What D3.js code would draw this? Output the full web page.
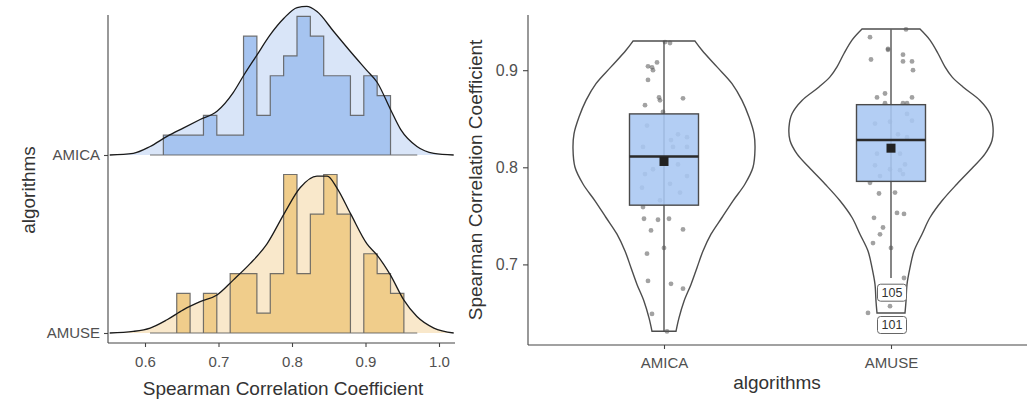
<!DOCTYPE html>
<html><head><meta charset="utf-8">
<script src="https://cdn.jsdelivr.net/npm/d3@7"></script>
<style>body{margin:0;background:#fff}svg{display:block;font-family:"Liberation Sans",Arial,sans-serif}</style>
</head><body><svg id="c" width="1034" height="403"></svg>
<script>
// ---------- data ----------
const algorithms = ["AMICA", "AMUSE"];
const binStart = 0.6068, binWidth = 0.01818;
const histAMICA = [0,1,1,1,2,1,1,6,2,4,5,7,6,4,4,2,4,3,0,0];
const histAMUSE = [0,0,2,0,2,0,3,3,1,3,8,3,6,8,6,0,4,3,2,0];
// density curves (x value, height in count units)
const densAMICA = [[0.552,0],[0.584,0.085],[0.607,0.43],[0.630,0.94],[0.652,1.36],[0.675,1.79],[0.698,2.21],[0.720,3.15],[0.734,4.0],[0.752,5.03],[0.770,6.05],[0.789,6.9],[0.807,7.44],[0.820,7.5],[0.834,7.24],[0.857,6.22],[0.880,5.2],[0.902,4.26],[0.916,3.66],[0.934,2.3],[0.948,1.28],[0.970,0.43],[0.993,0.085],[1.020,0]];
const densAMUSE = [[0.552,0],[0.584,0.08],[0.607,0.25],[0.630,0.67],[0.652,1.17],[0.675,1.58],[0.698,1.92],[0.720,2.67],[0.743,3.5],[0.766,4.5],[0.789,6.0],[0.811,7.33],[0.834,7.92],[0.848,7.92],[0.861,7.33],[0.880,6.0],[0.902,4.5],[0.916,3.92],[0.934,2.92],[0.952,1.67],[0.970,0.83],[0.993,0.25],[1.020,0]];
const xTicksLeft = [0.6, 0.7, 0.8, 0.9, 1.0];
const yTicksRight = [0.7, 0.8, 0.9];
// violin outlines (value, half width)
const violinAMICA = [[0.930,31],[0.9206,38],[0.9034,53],[0.8862,68],[0.8689,78],[0.8517,85],[0.8345,90],[0.819,91],[0.800,89],[0.7828,81],[0.7655,69],[0.7483,58],[0.7311,47],[0.7138,39],[0.6966,33],[0.6794,27],[0.6621,20],[0.6449,15],[0.6311,12]];
const violinAMUSE = [[0.9424,29],[0.931,39],[0.9172,47],[0.9034,54],[0.8931,61],[0.8827,72],[0.8689,89],[0.8552,99],[0.8414,102],[0.8276,101],[0.8138,94],[0.800,82],[0.7828,66],[0.7655,51],[0.7483,39],[0.7311,31],[0.7138,23],[0.6966,19],[0.6794,16],[0.6621,15],[0.650,14]];
// box stats: [low whisker, q1, median, q3, high whisker, mean]
const boxAMICA = [0.631, 0.761, 0.811, 0.855, 0.930, 0.806];
const boxAMUSE = [0.686, 0.7855, 0.828, 0.8645, 0.942, 0.8197];
// jittered points (jitter offset, value)
const pointsAMICA = [[1,0.929],[6,0.928],[-16,0.904],[-12,0.903],[-7,0.908],[-11,0.900],[-16,0.890],[-5,0.872],[-4,0.869],[19,0.871],[-19,0.864],[-1,0.857],[-17,0.843],[14,0.834],[23,0.831],[7,0.828],[-21,0.821],[9,0.821],[23,0.821],[14,0.803],[-11,0.798],[-19,0.793],[23,0.791],[-22,0.779],[6,0.783],[16,0.774],[-4,0.766],[-21,0.759],[-20,0.747],[-6,0.746],[5,0.747],[-13,0.735],[19,0.736],[0,0.717],[-17,0.711],[-16,0.683],[7,0.680],[19,0.675],[-12,0.649],[3,0.631]];
const pointsAMUSE = [[-21,0.934],[15,0.942],[-3,0.922],[-3,0.921],[-20,0.911],[12,0.916],[12,0.909],[21,0.909],[22,0.900],[-6,0.876],[-14,0.872],[21,0.872],[12,0.866],[16,0.866],[-6,0.866],[-16,0.845],[-1,0.847],[16,0.855],[21,0.848],[7,0.834],[16,0.831],[-14,0.814],[9,0.814],[14,0.803],[-16,0.802],[-1,0.798],[9,0.797],[-11,0.791],[12,0.793],[-21,0.784],[-12,0.773],[4,0.774],[6,0.753],[13,0.752],[-17,0.748],[-8,0.738],[-11,0.731],[-18,0.722],[0,0.717],[13,0.686],[-1,0.657],[-23,0.650]];
const outlierLabels = [["105", 0.686, 292.7], ["101", 0.650, 325]];

// ---------- drawing ----------
const svg = d3.select("#c");
const font = "'Liberation Sans', Arial, sans-serif";
const tickCol = "#505050", axisCol = "#444", titleCol = "#333";

// LEFT PANEL
const xL = d3.scaleLinear().domain([0.6, 1.0]).range([145, 439]);
const yCat = d3.scalePoint().domain(algorithms).range([155, 333]);
const hS = d3.scaleLinear().domain([0, 8]).range([0, 158.5]);
const ridges = [
  {name:"AMICA", hist:histAMICA, dens:densAMICA, dark:"#a6c4f0", light:"#d9e5f8"},
  {name:"AMUSE", hist:histAMUSE, dens:densAMUSE, dark:"#f0cd8b", light:"#f9e8cb"}
];
const gL = svg.append("g");
ridges.forEach(r => {
  const base = yCat(r.name);
  const area = d3.area().x(d => xL(d[0])).y0(base).y1(d => base - hS(d[1])).curve(d3.curveMonotoneX);
  gL.append("path").attr("d", area(r.dens)).attr("fill", r.light);
  const pts = [[xL(binStart), base]];
  r.hist.forEach((c, i) => {
    const x0 = xL(binStart + i*binWidth), x1 = xL(binStart + (i+1)*binWidth);
    pts.push([x0, base - hS(c)]); pts.push([x1, base - hS(c)]);
  });
  pts.push([xL(binStart + r.hist.length*binWidth), base]);
  gL.append("path").attr("d", "M" + pts.map(p => p.join(",")).join("L") + "Z")
    .attr("fill", r.dark).attr("stroke", "#5a5a5a").attr("stroke-opacity", 0.85).attr("stroke-width", 1.2);
  const line = d3.line().x(d => xL(d[0])).y(d => base - hS(d[1])).curve(d3.curveMonotoneX);
  gL.append("path").attr("d", line(r.dens)).attr("fill", "none").attr("stroke", "#1a1a1a").attr("stroke-width", 1.3);
});
const axL = svg.append("g").attr("transform", "translate(108,0)").call(d3.axisLeft(yCat).tickSize(4).tickPadding(4));
axL.select(".domain").remove();
axL.append("line").attr("x1", 0).attr("x2", 0).attr("y1", 15).attr("y2", 343);
const axB = svg.append("g").attr("transform", "translate(0,343)").call(d3.axisBottom(xL).tickValues(xTicksLeft).tickFormat(d3.format(".1f")).tickSize(4).tickPadding(9));
axB.select(".domain").remove();
axB.append("line").attr("x1", 108).attr("x2", 455).attr("y1", 0).attr("y2", 0);
[axL, axB].forEach(a => {
  a.selectAll("line").attr("stroke", axisCol).attr("stroke-width", 1.1);
  a.selectAll("text").attr("fill", tickCol).attr("font-size", 15).attr("font-family", font);
});
svg.append("text").attr("x", 283).attr("y", 395).attr("text-anchor", "middle").attr("font-size", 19).attr("fill", titleCol).text("Spearman Correlation Coefficient");
svg.append("text").attr("transform", "translate(35,190) rotate(-90)").attr("text-anchor", "middle").attr("font-size", 19).attr("fill", titleCol).text("algorithms");

// RIGHT PANEL
const xR = d3.scalePoint().domain(algorithms).range([664, 891]);
const yR = d3.scaleLinear().domain([0.7, 0.9]).range([264.4, 70.2]);
const wS = d3.scaleLinear().domain([0, 102]).range([0, 102]);
const vio = [
  {name:"AMICA", outline:violinAMICA, box:boxAMICA, pts:pointsAMICA},
  {name:"AMUSE", outline:violinAMUSE, box:boxAMUSE, pts:pointsAMUSE}
];
const gR = svg.append("g");
vio.forEach(v => {
  const cx = xR(v.name);
  const area = d3.area().y(d => yR(d[0])).x0(d => cx - wS(d[1])).x1(d => cx + wS(d[1])).curve(d3.curveCatmullRom);
  gR.append("path").attr("d", area(v.outline)).attr("fill", "#fff").attr("stroke", "#4d4d4d").attr("stroke-width", 1.4);
  const b = v.box;
  gR.append("line").attr("x1", cx).attr("x2", cx).attr("y1", yR(b[0])).attr("y2", yR(b[4])).attr("stroke", "#444").attr("stroke-width", 1.3);
  gR.selectAll(null).data(v.pts).enter().append("circle")
    .attr("cx", d => cx + d[0]).attr("cy", d => yR(d[1])).attr("r", 2.4)
    .attr("fill", "#555").attr("fill-opacity", 0.55);
  gR.append("rect").attr("x", cx - 34.5).attr("width", 69).attr("y", yR(b[3])).attr("height", yR(b[1]) - yR(b[3]))
    .attr("fill", "#a9c7f3").attr("fill-opacity", 0.88).attr("stroke", "#4a4a4a").attr("stroke-width", 1.4);
  gR.append("line").attr("x1", cx - 34.5).attr("x2", cx + 34.5).attr("y1", yR(b[2])).attr("y2", yR(b[2])).attr("stroke", "#2a2a2a").attr("stroke-width", 2.5);
  gR.append("rect").attr("x", cx - 4.5).attr("y", yR(b[5]) - 4.5).attr("width", 9).attr("height", 9).attr("fill", "#222");
});
const cxA = xR("AMUSE");
outlierLabels.forEach(o => {
  const g = gR.append("g").attr("transform", `translate(${cxA + 1},${o[2]})`);
  g.append("rect").attr("x", -14.5).attr("y", -8.5).attr("width", 29).attr("height", 17).attr("rx", 3)
    .attr("fill", "#fff").attr("stroke", "#666").attr("stroke-width", 1);
  g.append("text").attr("text-anchor", "middle").attr("dy", "0.35em").attr("font-size", 12.5).attr("fill", "#333").text(o[0]);
});
const axR = svg.append("g").attr("transform", "translate(528,0)").call(d3.axisLeft(yR).tickValues(yTicksRight).tickFormat(d3.format(".1f")).tickSize(5).tickPadding(5));
axR.select(".domain").remove();
axR.append("line").attr("x1", 0).attr("x2", 0).attr("y1", 15).attr("y2", 345);
const axRB = svg.append("g").attr("transform", "translate(0,345)").call(d3.axisBottom(xR).tickSize(4).tickPadding(8));
axRB.select(".domain").remove();
axRB.append("line").attr("x1", 528).attr("x2", 1027).attr("y1", 0).attr("y2", 0);
[axR, axRB].forEach(a => {
  a.selectAll("line").attr("stroke", axisCol).attr("stroke-width", 1.1);
  a.selectAll("text").attr("fill", tickCol).attr("font-size", 15).attr("font-family", font);
});
axR.selectAll("text").attr("font-size", 16);
svg.append("text").attr("x", 777).attr("y", 389).attr("text-anchor", "middle").attr("font-size", 19).attr("fill", titleCol).text("algorithms");
svg.append("text").attr("transform", "translate(482,180) rotate(-90)").attr("text-anchor", "middle").attr("font-size", 19).attr("fill", titleCol).text("Spearman Correlation Coefficient");
</script></body></html>
